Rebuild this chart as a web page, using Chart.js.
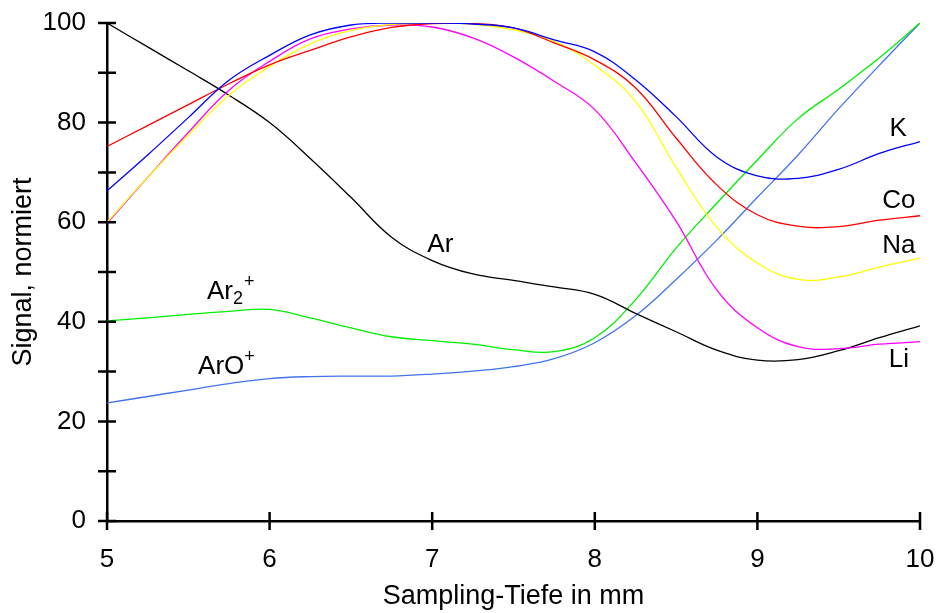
<!DOCTYPE html>
<html>
<head>
<meta charset="utf-8">
<script src="https://cdn.jsdelivr.net/npm/chart.js@4"></script>
<style>
  html, body { margin: 0; padding: 0; background: #fff; }
  #wrap { width: 938px; height: 613px; }
</style>
</head>
<body>
<div id="wrap"><canvas id="signalChart"></canvas></div>
<script>
// Sampling-Tiefe (mm)
const depth = [5, 5.25, 5.5, 5.75, 6, 6.25, 6.5, 6.75, 7, 7.25, 7.5, 7.75, 8, 8.25, 8.5, 8.75, 9, 9.25, 9.5, 9.75, 10];

// normierte Signale
const kValues   = [66.3, 73.5, 81, 88.5, 93.5, 97.6, 99.6, 100, 100, 99.8, 99, 96.6, 94.2, 88.6, 81.2, 73.1, 69.3, 68.8, 70.6, 73.8, 76.2];
const coValues  = [75.2, 79.4, 83.6, 87.8, 91.6, 94.5, 97.2, 99.1, 99.9, 99.9, 99, 96, 92.6, 87, 76.9, 67.5, 61.5, 59.2, 59.1, 60.4, 61.3];
const naValues  = [60, 69, 77.5, 85.5, 91.3, 95.8, 98.5, 99.7, 100, 99.8, 98.6, 96.3, 91.5, 84.3, 71, 59, 51.8, 48.5, 49, 51, 52.8];
const liValues  = [59.8, 69, 78, 86.5, 92.3, 96.8, 98.8, 99.6, 99.2, 97, 93.2, 88.3, 82.6, 72, 60.2, 46.4, 38.8, 35, 34.6, 35.5, 36];
const arValues  = [100, 95.2, 90.4, 85.5, 80, 72.8, 65, 57, 52.3, 49.6, 48.3, 47, 45.5, 41.7, 38, 34.3, 32.3, 32.4, 34.2, 36.8, 39.2];
const ar2Values = [40.2, 40.8, 41.5, 42.1, 42.5, 40.8, 38.8, 37, 36.2, 35.5, 34.4, 34, 36.8, 44.4, 54.8, 63.8, 72.5, 80.8, 86.7, 93, 100];
const aroValues = [23.7, 25, 26.3, 27.6, 28.6, 29, 29.1, 29.1, 29.5, 30.1, 31, 32.6, 35.8, 41.2, 48.5, 56.4, 65, 73.5, 82.8, 91.5, 100];

const xTicks = [5, 6, 7, 8, 9, 10];
const yTicks = [0, 20, 40, 60, 80, 100];

// Beschriftungen der Kurven (in Datenkoordinaten)
const curveLabels = [
  { text: "K",  x: 9.865, y: 78.8, align: "center" },
  { text: "Co", x: 9.87,  y: 64.2, align: "center" },
  { text: "Na", x: 9.87,  y: 55.3, align: "center" },
  { text: "Li", x: 9.87,  y: 32.3, align: "center" },
  { text: "Ar", x: 7.05,  y: 55.5, align: "center" },
  { text: "Ar", sub: "2", sup: "+", x: 5.615, y: 46.0, align: "left" },
  { text: "ArO", sup: "+", x: 5.56, y: 30.9, align: "left" },
];

const FONT = "'Liberation Sans', Arial, sans-serif";

const toPoints = (vals) => vals.map((v, i) => ({ x: depth[i], y: v }));

const makeSet = (label, vals, color) => ({
  label: label,
  data: toPoints(vals),
  borderColor: color,
  borderWidth: 1.3,
  pointRadius: 0,
  fill: false,
  tension: 0.4,
});

// Achsenstriche auf beiden Seiten der Achse + Kurvenbeschriftung
const crossTicks = {
  id: "crossTicks",
  afterDraw(chart) {
    const ctx = chart.ctx;
    const xs = chart.scales.x;
    const ys = chart.scales.y;
    const x0 = xs.getPixelForValue(5);
    const y0 = ys.getPixelForValue(0);
    ctx.save();
    ctx.strokeStyle = "#000";
    ctx.lineWidth = 2.5;
    ctx.beginPath();
    for (let v = 0; v <= 100; v += 10) {
      const py = ys.getPixelForValue(v);
      ctx.moveTo(x0 - 9, py);
      ctx.lineTo(x0 + 9, py);
    }
    xTicks.forEach((v) => {
      const px = xs.getPixelForValue(v);
      ctx.moveTo(px, y0 - 9);
      ctx.lineTo(px, y0 + 9);
    });
    ctx.stroke();

    ctx.fillStyle = "#000";
    ctx.textBaseline = "middle";
    curveLabels.forEach((l) => {
      const px = xs.getPixelForValue(l.x);
      const py = ys.getPixelForValue(l.y);
      ctx.font = "26px " + FONT;
      ctx.textAlign = l.align;
      ctx.fillText(l.text, px, py);
      let cx = px + ctx.measureText(l.text).width;
      ctx.textAlign = "left";
      ctx.font = "18px " + FONT;
      if (l.sub) {
        ctx.fillText(l.sub, cx, py + 7);
        cx += ctx.measureText(l.sub).width + 1;
      }
      if (l.sup) {
        ctx.fillText(l.sup, cx, py - 10);
      }
    });
    ctx.restore();
  },
};

new Chart(document.getElementById("signalChart").getContext("2d"), {
  type: "line",
  data: {
    datasets: [
      makeSet("K", kValues, "#0000ff"),
      makeSet("Co", coValues, "#ff0000"),
      makeSet("Na", naValues, "#ffff00"),
      makeSet("Li", liValues, "#ff00ff"),
      makeSet("Ar", arValues, "#000000"),
      makeSet("Ar2+", ar2Values, "#00ee00"),
      makeSet("ArO+", aroValues, "#4272ee"),
    ],
  },
  options: {
    responsive: true,
    maintainAspectRatio: false,
    animation: false,
    events: [],
    layout: { padding: { top: 23, right: 18, left: 0, bottom: 0 } },
    plugins: { legend: { display: false }, tooltip: { enabled: false } },
    scales: {
      x: {
        type: "linear",
        min: 5,
        max: 10,
        afterFit: (scale) => { scale.height = 92; },
        afterBuildTicks: (scale) => { scale.ticks = xTicks.map((v) => ({ value: v })); },
        grid: { display: false, drawTicks: true, tickLength: 22 },
        border: { display: true, color: "#000", width: 2.5 },
        ticks: { color: "#000", padding: 1, font: { family: FONT, size: 26 }, autoSkip: false, maxRotation: 0 },
        title: { display: true, text: "Sampling-Tiefe in mm", color: "#000", font: { family: FONT, size: 27 }, padding: { top: 0, bottom: 0 } },
      },
      y: {
        min: 0,
        max: 100,
        afterFit: (scale) => { scale.width = 107; },
        afterBuildTicks: (scale) => { scale.ticks = yTicks.map((v) => ({ value: v })); },
        grid: { display: false, drawTicks: true, tickLength: 20 },
        border: { display: true, color: "#000", width: 2.5 },
        ticks: { color: "#000", padding: 1, font: { family: FONT, size: 26 }, autoSkip: false },
        title: { display: true, text: "Signal, normiert", color: "#000", font: { family: FONT, size: 27 }, padding: { top: 7, bottom: 0 } },
      },
    },
  },
  plugins: [crossTicks],
});
</script>
</body>
</html>
